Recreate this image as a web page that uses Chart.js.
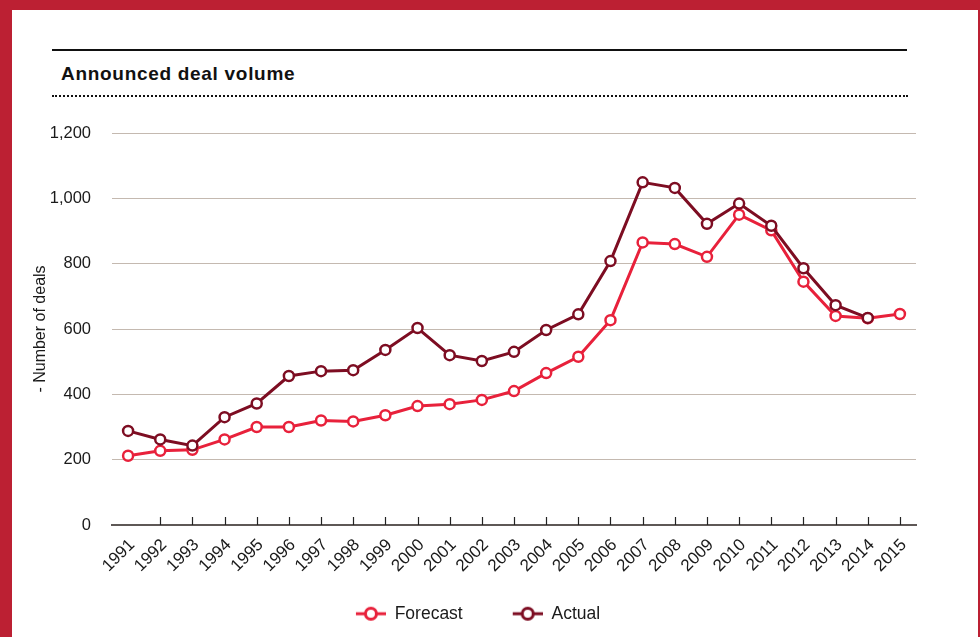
<!DOCTYPE html>
<html>
<head>
<meta charset="utf-8">
<script src="https://cdn.jsdelivr.net/npm/chart.js@4/dist/chart.umd.min.js"></script>
<style>
  body { margin: 0; width: 980px; height: 637px; overflow: hidden; background: #bc2033; font-family: "Liberation Sans", Arial, Helvetica, sans-serif; }
  .card { position: absolute; left: 12px; top: 10px; width: 966px; height: 627px; background: #fff; }
  .rule { position: absolute; left: 52px; top: 49px; width: 855px; border-top: 2px solid #111; }
  .title { position: absolute; left: 61px; top: 64px; font-size: 19px; line-height: 20px; font-weight: bold; letter-spacing: 0.7px; color: #111; }
  .dots { position: absolute; left: 52px; top: 95px; width: 856px; border-top: 2px dotted #111; }
  #chart { position: absolute; left: 0; top: 0; }
</style>
</head>
<body>
<div class="card"></div>
<div class="rule"></div>
<div class="title">Announced deal volume</div>
<div class="dots"></div>
<canvas id="chart" width="980" height="637"></canvas>
<script>
  // data
  const years = ['1991', '1992', '1993', '1994', '1995', '1996', '1997', '1998', '1999', '2000',
    '2001', '2002', '2003', '2004', '2005', '2006', '2007', '2008', '2009', '2010',
    '2011', '2012', '2013', '2014', '2015'];
  const forecast = [212, 227, 230, 262, 300, 300, 320, 317, 336, 364,
    370, 383, 410, 465, 515, 627, 865, 860, 821, 950,
    902, 745, 640, 633, 646];
  const actual = [288, 262, 243, 330, 372, 456, 471, 474, 536, 603,
    520, 502, 530, 597, 645, 808, 1049, 1032, 922, 984,
    916, 786, 673, 634];
  const yTicks = [0, 200, 400, 600, 800, 1000, 1200];

  const RED = '#e8213b';
  const MAROON = '#7d0d22';
  const AXIS = '#5e5856';
  const FONT = '"Liberation Sans", Arial, Helvetica, sans-serif';

  // legend icon: short line with an open circle, blank space on the left as item gap
  function legendIcon(color) {
    const c = document.createElement('canvas');
    c.width = 70;
    c.height = 18;
    const g = c.getContext('2d');
    g.strokeStyle = color;
    g.lineWidth = 3;
    g.beginPath();
    g.moveTo(40, 9);
    g.lineTo(70, 9);
    g.stroke();
    g.beginPath();
    g.arc(55, 9, 5.5, 0, Math.PI * 2);
    g.fillStyle = '#fff';
    g.fill();
    g.stroke();
    return c;
  }

  // small upward tick marks on the x axis
  const upTicks = {
    id: 'upTicks',
    afterDatasetsDraw(chart) {
      const x = chart.scales.x;
      const c = chart.ctx;
      c.save();
      c.strokeStyle = '#222';
      c.lineWidth = 1.2;
      for (let i = 1; i < years.length; i++) {
        const px = Math.round(x.getPixelForTick(i)) + 0.5;
        c.beginPath();
        c.moveTo(px, x.top);
        c.lineTo(px, x.top - 8);
        c.stroke();
      }
      c.restore();
    }
  };

  const ctx = document.getElementById('chart').getContext('2d');

  const chart = new Chart(ctx, {
    type: 'line',
    data: {
      labels: years,
      datasets: [
        {
          label: 'Actual',
          data: actual,
          borderColor: MAROON,
          backgroundColor: '#fff',
          borderWidth: 3,
          pointRadius: 5,
          pointBorderWidth: 2.5,
          pointBackgroundColor: '#fff',
          pointBorderColor: MAROON,
          tension: 0
        },
        {
          label: 'Forecast',
          data: forecast,
          borderColor: RED,
          backgroundColor: '#fff',
          borderWidth: 3,
          pointRadius: 5,
          pointBorderWidth: 2.5,
          pointBackgroundColor: '#fff',
          pointBorderColor: RED,
          tension: 0
        }
      ]
    },
    options: {
      responsive: false,
      animation: false,
      layout: {
        padding: { top: 133, left: 0, right: 64, bottom: 4.5 }
      },
      plugins: {
        tooltip: { enabled: false },
        legend: {
          position: 'bottom',
          labels: {
            usePointStyle: true,
            pointStyleWidth: 70,
            padding: 10,
            color: '#1a1a1a',
            font: { family: FONT, size: 17.5 },
            generateLabels: () => [
              { text: 'Forecast', pointStyle: legendIcon(RED), fillStyle: RED, strokeStyle: RED, lineWidth: 0, datasetIndex: 1, fontColor: '#1a1a1a' },
              { text: 'Actual', pointStyle: legendIcon(MAROON), fillStyle: MAROON, strokeStyle: MAROON, lineWidth: 0, datasetIndex: 0, fontColor: '#1a1a1a' }
            ]
          }
        }
      },
      scales: {
        x: {
          offset: true,
          grid: { display: false, drawTicks: false },
          border: { display: true, color: AXIS, width: 2 },
          ticks: {
            autoSkip: false,
            minRotation: 45,
            maxRotation: 45,
            padding: 10,
            labelOffset: 4,
            color: '#1a1a1a',
            font: { family: FONT, size: 17 }
          },
          afterFit: (scale) => { scale.height = 70; }
        },
        y: {
          min: 0,
          max: 1200,
          afterBuildTicks: (scale) => { scale.ticks = yTicks.map(v => ({ value: v })); },
          grid: { color: '#c4b9b0', lineWidth: 1, drawTicks: false },
          border: { display: false },
          ticks: {
            padding: 21,
            color: '#1a1a1a',
            font: { family: FONT, size: 16.5 },
            callback: (v) => v.toLocaleString('en-US')
          },
          title: {
            display: true,
            text: '- Number of deals',
            color: '#1a1a1a',
            font: { family: FONT, size: 16 },
            padding: { top: 31, bottom: 0 }
          },
          afterFit: (scale) => { scale.width = 112; }
        }
      }
    },
    plugins: [upTicks]
  });
</script>
</body>
</html>
